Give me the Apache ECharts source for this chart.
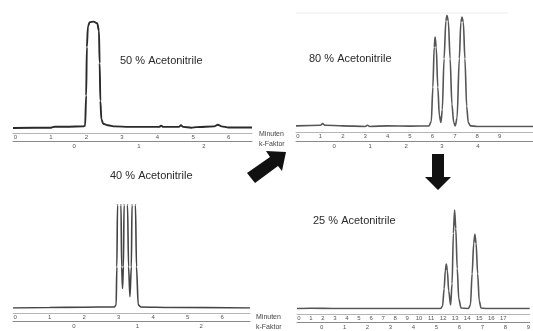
<!DOCTYPE html>
<html><head><meta charset="utf-8">
<script src="https://cdn.jsdelivr.net/npm/echarts@6/dist/echarts.min.js"></script>
<style>html,body{margin:0;padding:0;background:#fff}#c{width:533px;height:331px}</style>
</head><body><div id="c"></div>
<script>
// Retention time (min) vs. detector signal (relative, 0-100 of panel height)
const trace50 = [[-0.07,0],[1.0,0.3],[1.1,1.2],[1.5,1.2],[1.9,1.5],[1.96,2],[1.99,30],[2.01,75],[2.04,94],[2.09,98],[2.2,98.5],[2.3,97],[2.35,90],[2.37,60],[2.39,25],[2.42,8],[2.47,4],[2.6,2.5],[2.8,1.5],[3.2,1],[3.8,1],[4.05,1],[4.1,2.2],[4.16,1],[4.6,1],[4.66,2.5],[4.72,1],[4.95,0.3],[5.1,0.8],[5.6,1.5],[5.7,3],[5.8,1.5],[6.0,0.5],[6.66,0.5]];
const trace80 = [[-0.09,1],[1.0,1.5],[1.1,3],[1.2,1.5],[2,1],[3,0.5],[3.1,1.5],[3.2,0.5],[4,1],[5,0.8],[5.85,1],[5.95,5],[6.02,35],[6.08,70],[6.12,79],[6.17,70],[6.24,35],[6.31,10],[6.38,4],[6.44,15],[6.52,60],[6.6,93],[6.65,98],[6.71,93],[6.79,60],[6.87,20],[6.95,4],[7.02,1],[7.1,8],[7.2,60],[7.27,92],[7.32,96.5],[7.38,92],[7.45,60],[7.53,18],[7.6,4],[7.7,1],[8,0.5],[10.49,0.5]];
const trace40 = [[-0.06,0],[1,0.5],[2,0.8],[2.88,1],[2.93,3],[2.95,40],[2.97,100],[2.99,118],[3.05,118],[3.07,100],[3.09,40],[3.115,19],[3.14,40],[3.16,100],[3.18,118],[3.24,118],[3.26,100],[3.29,40],[3.33,11],[3.37,40],[3.39,100],[3.41,118],[3.47,118],[3.49,100],[3.52,40],[3.57,3],[3.65,1],[4.5,0.5],[6.81,0]];
const trace25 = [[-0.16,0.5],[1,0.8],[3,0.5],[11.8,0.5],[11.95,3],[12.08,20],[12.18,38],[12.26,44.5],[12.35,38],[12.46,18],[12.62,4],[12.74,25],[12.85,75],[12.95,98],[13.05,80],[13.17,40],[13.3,10],[13.49,1],[14.1,0.5],[14.27,4],[14.41,35],[14.54,65],[14.64,74],[14.74,65],[14.87,35],[15.0,8],[15.15,1],[15.6,0.5],[19.2,0.5]];

const minuteTicks50 = [0,1,2,3,4,5,6];
const kTicks50 = [0,1,2];
const minuteTicks80 = [0,1,2,3,4,5,6,7,8,9];
const kTicks80 = [0,1,2,3,4];
const minuteTicks40 = [0,1,2,3,4,5,6];
const kTicks40 = [0,1,2];
const minuteTicks25 = [0,1,2,3,4,5,6,7,8,9,10,11,12,13,14,15,16,17];
const kTicks25 = [0,1,2,3,4,5,6,7,8,9];

const titles = ['50 % Acetonitrile','80 % Acetonitrile','40 % Acetonitrile','25 % Acetonitrile'];
const axisNames = ['Minuten','k-Faktor'];

const panels = [
  {data: trace50, mt: minuteTicks50, kt: kTicks50, grid:{left:13, top:20, width:239, height:108}, tMin:-0.07, tMax:6.66, kMin:-0.94, kMax:2.74, yMax:100, color:'#2a2a2a', lw:1.9, title:titles[0], tx:120, ty:61, kOff:13},
  {data: trace80, mt: minuteTicks80, kt: kTicks80, grid:{left:296, top:13, width:237, height:114}, tMin:-0.09, tMax:10.49, kMin:-1.06, kMax:5.53, yMax:100, color:'#555', lw:1.6, title:titles[1], tx:309, ty:59, kOff:14},
  {data: trace40, mt: minuteTicks40, kt: kTicks40, grid:{left:13, top:205, width:237, height:103}, tMin:-0.06, tMax:6.81, kMin:-0.96, kMax:2.77, yMax:100, color:'#444', lw:1.6, title:titles[2], tx:110, ty:176, kOff:13},
  {data: trace25, mt: minuteTicks25, kt: kTicks25, grid:{left:297, top:208, width:236, height:101}, tMin:-0.16, tMax:19.2, kMin:-1.07, kMax:9.06, yMax:100, color:'#555', lw:1.6, title:titles[3], tx:313, ty:221, kOff:13}
];

const labelStyle = {fontSize:6, color:'#555', fontFamily:'Liberation Sans'};
const grids = [], xAxes = [], yAxes = [], series = [], graphics = [];
panels.forEach((p, i) => {
  grids.push(Object.assign({containLabel:false}, p.grid));
  xAxes.push({type:'value', gridIndex:i, position:'bottom', offset:5, min:p.tMin, max:p.tMax,
    axisLine:{show:true, onZero:false, lineStyle:{color:'#b5b5b5', width:1}}, axisTick:{show:false}, splitLine:{show:false},
    axisLabel:Object.assign({customValues:p.mt, margin:1}, labelStyle)});
  xAxes.push({type:'value', gridIndex:i, position:'bottom', offset:p.kOff, min:p.kMin, max:p.kMax,
    axisLine:{show:true, onZero:false, lineStyle:{color:'#8a8a8a', width:1}}, axisTick:{show:false}, splitLine:{show:false},
    axisLabel:Object.assign({customValues:p.kt, margin:2}, labelStyle)});
  yAxes.push({type:'value', gridIndex:i, min:0, max:p.yMax, show:false});
  series.push({type:'line', xAxisIndex:2*i, yAxisIndex:i, data:p.data, symbol:'none', smooth:0.3, smoothMonotone:'x', clip:true,
    lineStyle:{color:p.color, width:p.lw}});
  graphics.push({type:'text', x:p.tx, y:p.ty, style:{text:p.title, font:'11px "Liberation Sans"', fill:'#2a2a2a', textVerticalAlign:'middle'}});
});

// axis captions
graphics.push({type:'text', x:259, y:134, style:{text:axisNames[0], font:'7px "Liberation Sans"', fill:'#444', textVerticalAlign:'middle'}});
graphics.push({type:'text', x:259, y:144, style:{text:axisNames[1], font:'7px "Liberation Sans"', fill:'#444', textVerticalAlign:'middle'}});
graphics.push({type:'text', x:256, y:317, style:{text:axisNames[0], font:'7px "Liberation Sans"', fill:'#444', textVerticalAlign:'middle'}});
graphics.push({type:'text', x:256, y:327, style:{text:axisNames[1], font:'7px "Liberation Sans"', fill:'#444', textVerticalAlign:'middle'}});
// faint frame line above top-right panel
graphics.push({type:'line', shape:{x1:296, y1:13, x2:508, y2:13}, style:{stroke:'#ececec', lineWidth:1}});
// arrows
graphics.push({type:'polygon', shape:{points:[[247,173],[270,157],[266,151],[286,152],[282,171],[278,166],[255,183]]}, style:{fill:'#111'}});
graphics.push({type:'polygon', shape:{points:[[432,154],[444,154],[444,177],[451,177],[438,190],[425,177],[432,177]]}, style:{fill:'#111'}});

const chart = echarts.init(document.getElementById('c'), null, {renderer:'canvas'});
chart.setOption({
  animation:false,
  backgroundColor:'#fff',
  grid:grids, xAxis:xAxes, yAxis:yAxes, series:series, graphic:graphics
});
</script></body></html>
